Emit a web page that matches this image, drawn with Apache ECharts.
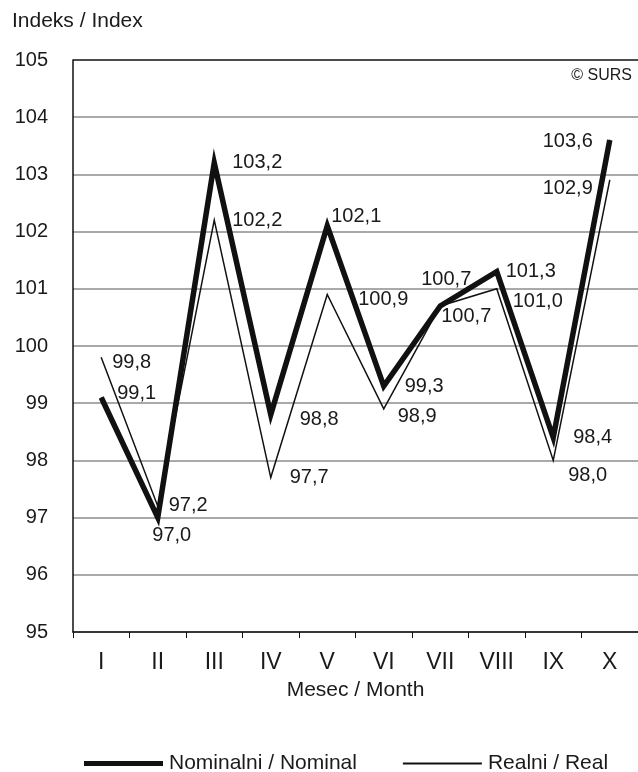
<!DOCTYPE html>
<html>
<head>
<meta charset="utf-8">
<script src="https://cdn.jsdelivr.net/npm/echarts@6/dist/echarts.min.js"></script>
<style>html,body{margin:0;padding:0;background:#fff}#c{width:638px;height:772px}</style>
</head>
<body>
<div id="c"></div>
<script>
const months = ['I','II','III','IV','V','VI','VII','VIII','IX','X'];
const nominal = [99.1, 97.0, 103.2, 98.8, 102.1, 99.3, 100.7, 101.3, 98.4, 103.6];
const real = [99.8, 97.2, 102.2, 97.7, 100.9, 98.9, 100.7, 101.0, 98.0, 102.9];
const yTicks = [95, 96, 97, 98, 99, 100, 101, 102, 103, 104, 105];

// label layout (align, dx, dy) kept separate from data
const nominalLabelLayout = [
  ['left',16,-4],['center',14,18],['left',18,0],['left',29,5],['left',4,-9],
  ['left',21,0],['center',6,-26],['left',9,0],['left',20,0],['right',-17,1]
];
const realLabelLayout = [
  ['left',11,5],['left',11,-1],['left',18,0],['left',19,0],['left',31,5],
  ['left',14,8],['left',1,11],['left',16,13],['left',15,15],['right',-17,8]
];

const FONT = '"Liberation Sans", Arial, Helvetica, sans-serif';
const fmt = v => v.toFixed(1).replace('.', ',');

function buildData(values, layout) {
  return values.map((v, i) => ({
    value: v,
    label: {
      align: layout[i][0],
      offset: [layout[i][1], layout[i][2]]
    }
  }));
}

const labelBase = {
  show: true,
  position: 'inside',
  verticalAlign: 'middle',
  fontFamily: FONT,
  fontSize: 20,
  color: '#1a1a1a',
  formatter: p => fmt(p.value)
};

const gridColors = yTicks.map((t, i) => i === yTicks.length - 1 ? '#111' : '#8c8c8c');

const chart = echarts.init(document.getElementById('c'), null, {renderer: 'canvas'});
chart.setOption({
  animation: false,
  backgroundColor: '#fff',
  title: [
    {text: 'Indeks / Index', left: 12, top: 11, padding: 0, textStyle: {fontFamily: FONT, fontSize: 21, fontWeight: 'normal', color: '#1a1a1a'}},
    {text: '© SURS', right: 6, top: 68, padding: 0, textStyle: {fontFamily: FONT, fontSize: 16, fontWeight: 'normal', color: '#1a1a1a'}}
  ],
  grid: {left: 73, right: -2, top: 60, bottom: 140, containLabel: false},
  xAxis: {
    type: 'category',
    data: months,
    boundaryGap: true,
    name: 'Mesec / Month',
    nameLocation: 'middle',
    nameGap: 48,
    nameTextStyle: {fontFamily: FONT, fontSize: 21, color: '#1a1a1a'},
    axisLine: {lineStyle: {color: '#111', width: 1.5}},
    axisTick: {show: true, length: 6, lineStyle: {color: '#111', width: 1}},
    axisLabel: {fontFamily: FONT, fontSize: 23, color: '#1a1a1a', margin: 19},
    splitLine: {show: false}
  },
  yAxis: {
    type: 'value',
    min: 95,
    max: 105,
    interval: 1,
    axisLine: {show: true, lineStyle: {color: '#111', width: 1.5}},
    axisTick: {show: false},
    axisLabel: {fontFamily: FONT, fontSize: 20, color: '#1a1a1a', margin: 25},
    splitLine: {show: true, lineStyle: {color: gridColors, width: 1.5}}
  },
  legend: {
    left: 84,
    top: 753,
    padding: 0,
    itemWidth: 79,
    itemHeight: 22,
    itemGap: 46,
    textStyle: {fontFamily: FONT, fontSize: 21, color: '#1a1a1a', padding: [0, 0, 0, 1]},
    data: [
      {name: 'Nominalni / Nominal', icon: 'path://M0,0 L79,0 L79,5 L0,5 Z', itemStyle: {color: '#111'}},
      {name: 'Realni / Real', icon: 'path://M0,0 L79,0 L79,1.8 L0,1.8 Z', itemStyle: {color: '#111'}}
    ]
  },
  series: [
    {
      name: 'Nominalni / Nominal',
      type: 'line',
      data: buildData(nominal, nominalLabelLayout),
      symbol: 'circle',
      symbolSize: 1,
      showSymbol: true,
      itemStyle: {color: '#111'},
      lineStyle: {color: '#111', width: 5.5, join: 'miter', miterLimit: 10, cap: 'butt'},
      label: labelBase,
      z: 2
    },
    {
      name: 'Realni / Real',
      type: 'line',
      data: buildData(real, realLabelLayout),
      symbol: 'circle',
      symbolSize: 1,
      showSymbol: true,
      itemStyle: {color: '#111'},
      lineStyle: {color: '#111', width: 1.5, join: 'miter', miterLimit: 10, cap: 'butt'},
      label: labelBase,
      z: 3
    }
  ]
});
</script>
</body>
</html>
